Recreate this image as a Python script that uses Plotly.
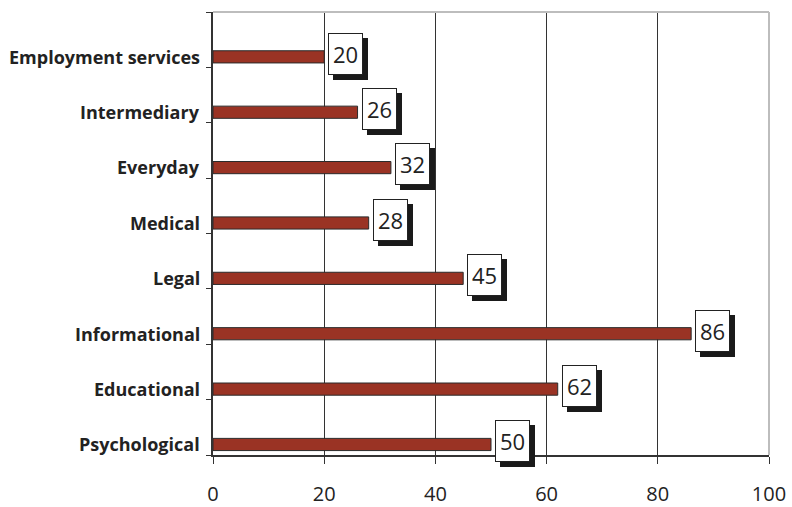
import plotly.graph_objects as go

# Types of assistance and the count for each
categories = ["Employment services", "Intermediary", "Everyday", "Medical",
              "Legal", "Informational", "Educational", "Psychological"]
values = [20, 26, 32, 28, 45, 86, 62, 50]
x_ticks = [0, 20, 40, 60, 80, 100]

BAR_COLOR = "#9a3324"
LABEL_FONT = "Open Sans"
BAR_WIDTH = 0.22
BAR_DROP = 0.31   # bars sit in the lower part of each category band

fig = go.Figure()
fig.add_trace(go.Bar(
    y=categories, x=values, orientation="h",
    width=BAR_WIDTH, offset=-BAR_DROP - BAR_WIDTH / 2,
    marker=dict(color=BAR_COLOR, line=dict(color="#2b2b2b", width=1)),
    hoverinfo="x+y",
))

annotations = []
for cat, v in zip(categories, values):
    # category name, level with its bar
    annotations.append(dict(x=0, y=cat, xref="paper", yref="y", text=cat,
                            showarrow=False, xanchor="right", yanchor="middle",
                            xshift=-11, yshift=-17,
                            font=dict(family=LABEL_FONT, size=18, color="#222",
                                      weight="bold")))
    common = dict(x=v, y=cat, xref="x", yref="y",
                  showarrow=False, xanchor="left", yanchor="middle",
                  width=31, height=38, borderpad=1, borderwidth=1,
                  font=dict(family=LABEL_FONT, size=22, color="#222"))
    # drop shadow behind the value box
    annotations.append(dict(common, text=" ", xshift=9, yshift=-19,
                            bgcolor="#1a1a1a", bordercolor="#1a1a1a"))
    annotations.append(dict(common, text=str(v), xshift=4, yshift=-14,
                            bgcolor="white", bordercolor="#222"))

fig.update_layout(
    width=792, height=507,
    margin=dict(l=213, r=23, t=12, b=52),
    paper_bgcolor="white", plot_bgcolor="white",
    showlegend=False,
    annotations=annotations,
    xaxis=dict(range=[0, 100], tickvals=x_ticks, ticks="outside", ticklen=7,
               tickcolor="#333", showline=True, linecolor="#333", linewidth=1.5,
               showgrid=True, gridcolor="#333", gridwidth=1, zeroline=False,
               ticklabelstandoff=13, automargin=False,
               tickfont=dict(family=LABEL_FONT, size=20, color="#222")),
    yaxis=dict(categoryorder="array", categoryarray=categories[::-1],
               range=[-0.5, len(categories) - 0.5],
               tickson="boundaries", ticks="outside", ticklen=5, tickcolor="#333",
               showline=True, linecolor="#333", linewidth=1.5, showgrid=False,
               showticklabels=False, automargin=False),
    shapes=[
        dict(type="line", xref="paper", yref="paper", x0=0, x1=1, y0=1, y1=1,
             line=dict(color="#bdbdbd", width=2)),
        dict(type="line", xref="paper", yref="paper", x0=1, x1=1, y0=0, y1=1,
             line=dict(color="#bdbdbd", width=2)),
    ],
)

fig.write_html("out.html")
